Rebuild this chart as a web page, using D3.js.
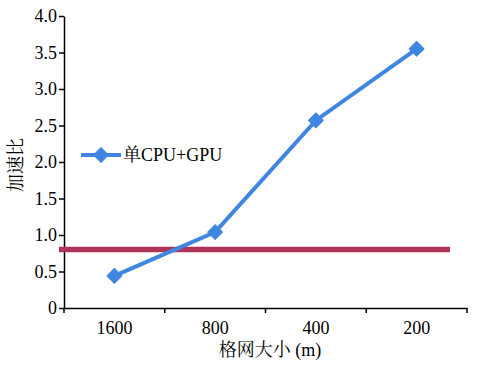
<!DOCTYPE html>
<html><head><meta charset="utf-8">
<script src="https://cdn.jsdelivr.net/npm/d3@7"></script>
<style>body{margin:0;background:#fff}</style>
</head><body><svg id="c" width="481" height="366"></svg>
<script>
const categories = ["1600","800","400","200"];
const seriesValues = [0.44, 1.04, 2.57, 3.55];
const seriesName = "单CPU+GPU";
const refValue = 0.8;
const yTicks = [0,0.5,1.0,1.5,2.0,2.5,3.0,3.5,4.0];

const FF = "'Liberation Serif','Times New Roman','Noto Serif CJK SC','Noto Sans CJK SC',serif";
const FS = 18;
const svg = d3.select("#c").attr("font-family",FF);
const L=64,R=467,T=16,B=308;
const x = d3.scaleBand().domain(categories).range([L,R]);
const y = d3.scaleLinear().domain([0,4]).range([B,T]);

const yAxis = svg.append("g").attr("transform",`translate(${L},0)`)
  .call(d3.axisLeft(y).tickValues(yTicks).tickFormat(d=>d===0?"0":d.toFixed(1)).tickSize(5).tickSizeOuter(0));
const xAxis = svg.append("g").attr("transform",`translate(0,${B})`)
  .call(d3.axisBottom(x).tickSize(0).tickSizeOuter(0));
[yAxis,xAxis].forEach(g=>{g.attr("font-family",FF);
  g.select(".domain").attr("stroke","#000").attr("stroke-width",1.5);
  g.selectAll("text").attr("font-size",FS).attr("fill","#000").attr("font-family",FF);
  g.selectAll("line").attr("stroke","#000").attr("stroke-width",1.5);});
yAxis.selectAll("text").attr("x",-7).attr("dy","0.33em");
xAxis.selectAll("text").attr("dy","1.3em");
const bounds = categories.map(c=>x(c)).concat([R]);
xAxis.selectAll(".bt").data(bounds).enter().append("line")
  .attr("x1",d=>d).attr("x2",d=>d).attr("y1",0).attr("y2",5).attr("stroke","#000").attr("stroke-width",1.5);

svg.append("line").attr("x1",59).attr("x2",450).attr("y1",y(refValue)).attr("y2",y(refValue))
  .attr("stroke","#B0345A").attr("stroke-width",5.5);

const blue="#3F86E0";
const cx = d=>x(d)+x.bandwidth()/2;
svg.append("path").datum(seriesValues)
  .attr("d",d3.line().x((d,i)=>cx(categories[i])).y(d=>y(d)))
  .attr("fill","none").attr("stroke",blue).attr("stroke-width",4);
const diamond = d3.symbol().type(d3.symbolSquare).size(110);
svg.selectAll(".pt").data(seriesValues).enter().append("path")
  .attr("d",diamond).attr("fill",blue).attr("stroke",blue).attr("stroke-width",1).attr("stroke-linejoin","round")
  .attr("transform",(d,i)=>`translate(${cx(categories[i])},${y(d)}) rotate(45)`);

const ly=155;
svg.append("line").attr("x1",81).attr("x2",121).attr("y1",ly).attr("y2",ly).attr("stroke",blue).attr("stroke-width",4);
svg.append("path").attr("d",diamond).attr("fill",blue).attr("stroke",blue).attr("stroke-width",1).attr("stroke-linejoin","round").attr("transform",`translate(101,${ly}) rotate(45)`);
svg.append("text").attr("x",123).attr("y",ly).attr("dy","0.35em").attr("font-size",FS).attr("font-family",FF).text(seriesName);

svg.append("text").attr("x",270).attr("y",356).attr("text-anchor","middle").attr("font-size",FS).attr("font-family",FF).text("格网大小 (m)");
svg.append("text").attr("transform","translate(22,165) rotate(-90)").attr("text-anchor","middle").attr("font-size",FS).attr("font-family",FF).text("加速比");
</script></body></html>
